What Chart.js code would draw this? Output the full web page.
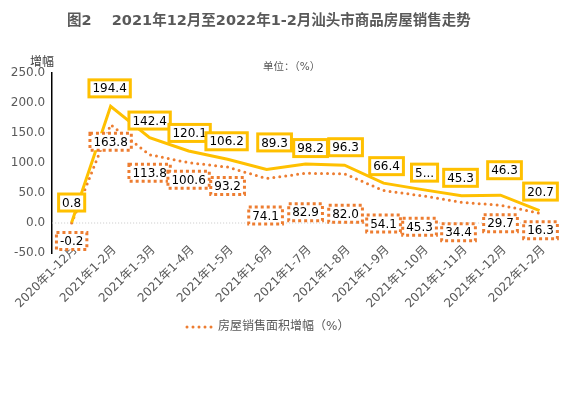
<!DOCTYPE html>
<html>
<head>
<meta charset="utf-8">
<script src="https://cdn.jsdelivr.net/npm/chart.js@4/dist/chart.umd.min.js"></script>
<style>
  html, body { margin: 0; padding: 0; background: #fff; }
  #wrap { width: 580px; height: 394px; position: relative; }
</style>
</head>
<body>
<div id="wrap"><canvas id="chart" width="580" height="394"></canvas></div>
<script>
// data
const months = ['2020年1-12月', '2021年1-2月', '2021年1-3月', '2021年1-4月', '2021年1-5月', '2021年1-6月',
    '2021年1-7月', '2021年1-8月', '2021年1-9月', '2021年1-10月', '2021年1-11月', '2021年1-12月', '2022年1-2月'];
const salesAmount = [0.8, 194.4, 142.4, 120.1, 106.2, 89.3, 98.2, 96.3, 66.4, 55.6, 45.3, 46.3, 20.7];
const salesArea = [-0.2, 163.8, 113.8, 100.6, 93.2, 74.1, 82.9, 82.0, 54.1, 45.3, 34.4, 29.7, 16.3];
const yTicks = [-50, 0, 50, 100, 150, 200, 250];

const FONT = "'DejaVu Sans', 'Noto Sans CJK SC', sans-serif";
const GRAY = '#595959';
const YELLOW = '#FFC000';
const ORANGE = '#ED7D31';

// label text (one label is cut off in the original)
const amountText = salesAmount.map(v => v.toFixed(1));
amountText[9] = '5...';
const areaText = salesArea.map(v => v.toFixed(1));

// label offsets from the point (px)
const amountOff = [[0, -20], [-1, -18], [0, -17], [1, -18], [-1, -18], [8, -27], [5, -16], [1, -18],
    [3, -17], [2, -17], [-1, -18], [4, -25], [1, -19]];
const areaOff = [[0, 18], [0, 17], [0, 18], [0, 17], [0, 19], [-1, 37], [0, 39], [1, 40],
    [0, 33], [-3, 31], [-3, 30], [0, 18], [1, 17]];

// titles, legend and data label boxes
const boxLabels = {
    id: 'boxLabels',
    afterDraw(chart) {
        const ctx = chart.ctx;
        ctx.save();
        // title
        ctx.fillStyle = GRAY;
        ctx.font = 'bold 14.5px ' + FONT;
        ctx.textBaseline = 'middle';
        ctx.textAlign = 'left';
        ctx.fillText('图2    2021年12月至2022年1-2月汕头市商品房屋销售走势', 67, 21);
        ctx.font = '12px ' + FONT;
        ctx.fillStyle = '#404040';
        ctx.fillText('增幅', 30, 63);
        ctx.font = '10.5px ' + FONT;
        ctx.fillStyle = GRAY;
        ctx.fillText('单位：（%）', 263, 67);

        // legend (only the area series is listed)
        ctx.strokeStyle = ORANGE;
        ctx.lineWidth = 3;
        ctx.lineCap = 'round';
        ctx.setLineDash([0, 6]);
        ctx.beginPath();
        ctx.moveTo(187, 327);
        ctx.lineTo(212, 327);
        ctx.stroke();
        ctx.setLineDash([]);
        ctx.lineCap = 'butt';
        ctx.font = '12px ' + FONT;
        ctx.fillStyle = GRAY;
        ctx.fillText(chart.data.datasets[1].label, 218, 327);

        ctx.textAlign = 'center';
        const drawSet = (idx, texts, offs, color, dashed) => {
            const meta = chart.getDatasetMeta(idx);
            meta.data.forEach((pt, i) => {
                const cx = pt.x + offs[i][0];
                const cy = pt.y + offs[i][1];
                const w = ctx.measureText(texts[i]).width + 7;
                const h = 17;
                ctx.fillStyle = '#fff';
                ctx.fillRect(cx - w / 2, cy - h / 2, w, h);
                ctx.lineWidth = 3;
                ctx.strokeStyle = color;
                ctx.setLineDash(dashed ? [3, 3] : []);
                ctx.strokeRect(cx - w / 2, cy - h / 2, w, h);
                ctx.setLineDash([]);
                ctx.fillStyle = '#000';
                ctx.fillText(texts[i], cx, cy + 1);
            });
        };
        drawSet(1, areaText, areaOff, ORANGE, true);
        drawSet(0, amountText, amountOff, YELLOW, false);
        ctx.restore();
    }
};

new Chart(document.getElementById('chart'), {
    type: 'line',
    data: {
        labels: months,
        datasets: [{
            label: '房屋销售额增幅（%）',
            data: salesAmount,
            borderColor: YELLOW,
            backgroundColor: YELLOW,
            borderWidth: 3,
            pointRadius: 0,
            tension: 0
        }, {
            label: '房屋销售面积增幅（%）',
            data: salesArea,
            borderColor: ORANGE,
            backgroundColor: ORANGE,
            borderWidth: 3,
            borderDash: [0, 6],
            borderCapStyle: 'round',
            pointRadius: 0,
            tension: 0
        }]
    },
    options: {
        responsive: false,
        animation: false,
        layout: { padding: { top: 73, left: 0, right: 21, bottom: 141 } },
        plugins: {
            tooltip: { enabled: false },
            legend: { display: false }
        },
        scales: {
            x: {
                position: { y: 0 },
                offset: true,
                grid: { display: false },
                border: { display: false },
                ticks: {
                    color: GRAY,
                    font: { family: FONT, size: 12 },
                    minRotation: 45,
                    maxRotation: 45,
                    autoSkip: false,
                    padding: 12,
                    labelOffset: 4
                }
            },
            y: {
                min: -50,
                max: 250,
                afterBuildTicks(scale) { scale.ticks = yTicks.map(v => ({ value: v })); },
                grid: { display: false, drawTicks: false },
                border: { display: true, color: '#000', width: 1.5 },
                ticks: {
                    color: GRAY,
                    font: { family: FONT, size: 12 },
                    padding: 7,
                    callback: v => v.toFixed(1)
                },
                afterFit(scale) { scale.width = 47.5; }
            }
        }
    },
    plugins: [boxLabels, {
        id: 'zeroDash',
        beforeDatasetsDraw(chart) {
            // dotted zero line
            const { ctx, chartArea, scales } = chart;
            const y = scales.y.getPixelForValue(0);
            ctx.save();
            ctx.strokeStyle = '#c8c8c8';
            ctx.lineWidth = 1;
            ctx.setLineDash([1, 2]);
            ctx.beginPath();
            ctx.moveTo(chartArea.left, y);
            ctx.lineTo(chartArea.right, y);
            ctx.stroke();
            ctx.restore();
        }
    }]
});
</script>
</body>
</html>
